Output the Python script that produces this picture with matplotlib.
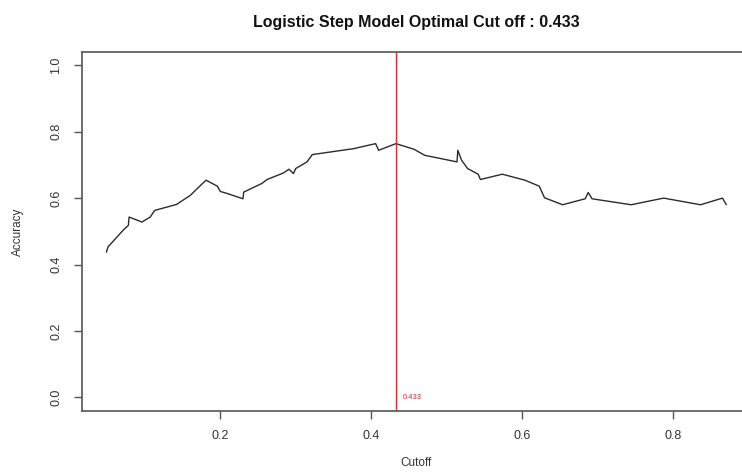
import numpy as np
import matplotlib.pyplot as plt

plt.rcParams['font.family'] = ['Liberation Sans', 'DejaVu Sans']

# accuracy against probability cutoff for the stepwise logistic model
cutoff = [0.049, 0.051, 0.071, 0.078, 0.079, 0.096, 0.107, 0.113, 0.142, 0.160,
          0.181, 0.196, 0.200, 0.209, 0.230, 0.231, 0.255, 0.262, 0.284, 0.291,
          0.297, 0.300, 0.315, 0.322, 0.377, 0.406, 0.410, 0.433, 0.457, 0.471,
          0.514, 0.515, 0.520, 0.528, 0.542, 0.545, 0.574, 0.604, 0.623, 0.630,
          0.654, 0.684, 0.688, 0.693, 0.745, 0.788, 0.837, 0.866, 0.871]
accuracy = [0.438, 0.453, 0.503, 0.518, 0.543, 0.528, 0.543, 0.563, 0.581, 0.608,
            0.654, 0.636, 0.620, 0.614, 0.598, 0.618, 0.644, 0.656, 0.676, 0.687,
            0.674, 0.689, 0.709, 0.731, 0.749, 0.764, 0.744, 0.764, 0.747, 0.729,
            0.709, 0.744, 0.714, 0.689, 0.672, 0.656, 0.672, 0.654, 0.636, 0.601,
            0.580, 0.598, 0.617, 0.598, 0.580, 0.600, 0.580, 0.600, 0.581]
best_cut = 0.433
title = "Logistic Step Model Optimal Cut off : 0.433"

fig = plt.figure(figsize=(7.42, 4.75), dpi=100)
ax = fig.add_axes([0.1101, 0.1354, 0.902, 0.7552])

ax.plot(cutoff, accuracy, color='#2b2b2b', lw=1.0)
ax.axvline(best_cut, color='#e8262a', lw=1.0)
ax.annotate(str(best_cut), xy=(best_cut, 0), xytext=(5, 0), textcoords='offset points',
            color='#e8262a', fontsize=5.5, va='center', ha='left')

# R-style 4% padding around data range
xr = max(cutoff) - min(cutoff)
ax.set_xlim(min(cutoff) - 0.04 * xr, max(cutoff) + 0.04 * xr)
ax.set_ylim(-0.04, 1.04)

ax.set_xticks([0.2, 0.4, 0.6, 0.8])
ax.set_yticks(np.arange(0, 1.01, 0.2))
ax.set_xticklabels(['0.2', '0.4', '0.6', '0.8'])
ax.set_yticklabels(['0.0', '0.2', '0.4', '0.6', '0.8', '1.0'], rotation=90, va='center')
ax.tick_params(length=6, width=1, color='#555555', labelcolor='#333333', labelsize=9, pad=8)
for s in ax.spines.values():
    s.set_color('#555555')
    s.set_linewidth(1.2)
# the box runs past the right edge of the figure
ax.spines['right'].set_visible(False)

ax.set_title(title, fontsize=11.5, fontweight='bold', pad=18, color='#111111')
ax.set_xlabel('Cutoff', fontsize=8.5, color='#333333', labelpad=11)
ax.set_ylabel('Accuracy', fontsize=8.5, color='#333333', labelpad=19)

fig.savefig('out.png', dpi=100)
